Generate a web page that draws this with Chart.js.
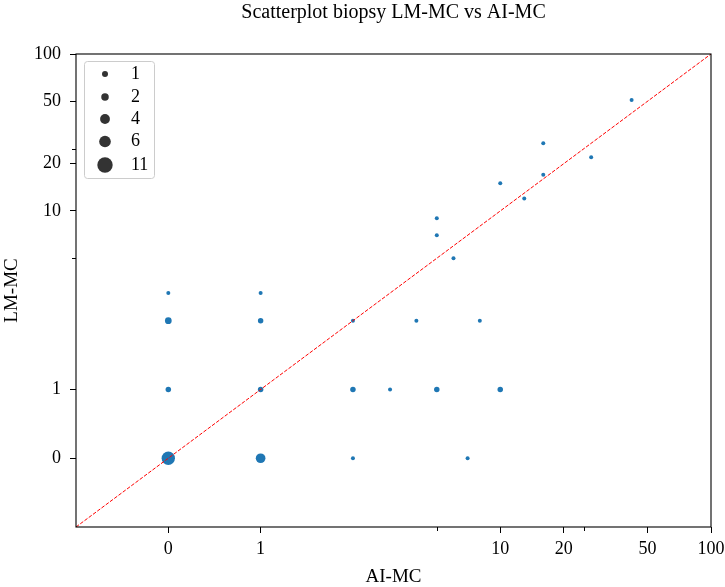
<!DOCTYPE html>
<html>
<head>
<meta charset="utf-8">
<title>Scatterplot biopsy LM-MC vs AI-MC</title>
<script src="https://cdn.jsdelivr.net/npm/chart.js@4"></script>
<style>
  html, body { margin: 0; padding: 0; background: #fff; }
  #wrap { width: 725px; height: 587px; }
</style>
</head>
<body>
<div id="wrap"><canvas id="scatterChart"></canvas></div>
<script>
// --- Data ---
const aiMC   = [0, 1, 2, 7, 0, 1, 2, 3, 5, 10, 0, 1, 2, 4, 8, 0, 1, 5, 5, 6, 10, 13, 16, 16, 27, 42];
const lmMC   = [0, 0, 0, 0, 1, 1, 1, 1, 1, 1, 2, 2, 2, 2, 2, 3, 3, 7, 9, 5, 15, 12, 27, 17, 22, 51];
const counts = [11, 6, 1, 1, 2, 2, 2, 1, 2, 2, 3, 2, 1, 1, 1, 1, 1, 1, 1, 1, 1, 1, 1, 1, 1, 1];
const legendCounts = [1, 2, 4, 6, 11];
const tickValues = [0, 1, 5, 10, 20, 25, 50, 100];
const tickLabels = ['0', '1', '', '10', '20', '', '50', '100'];
const axisMin = -1;
const axisMax = 100;

const SERIF = "'Liberation Serif', 'DejaVu Serif', serif";
const DOT_BLUE = '#1f77b4';

// symlog: linear up to 2, then log10 (linear part scaled to match the picture)
const LIN_THRESH = 2;
const LIN_SCALE = 0.438;
function symlog(v) {
    const a = Math.abs(v);
    if (a <= LIN_THRESH) return v * LIN_SCALE;
    return Math.sign(v) * (LIN_THRESH * LIN_SCALE + Math.log10(a / LIN_THRESH));
}
function symlogInv(t) {
    const a = Math.abs(t);
    if (a <= LIN_THRESH * LIN_SCALE) return t / LIN_SCALE;
    return Math.sign(t) * LIN_THRESH * Math.pow(10, a - LIN_THRESH * LIN_SCALE);
}

class SymlogScale extends Chart.Scale {
    determineDataLimits() {
        this.min = this.options.min;
        this.max = this.options.max;
    }
    buildTicks() {
        return tickValues.filter(v => v >= this.min && v <= this.max).map(v => ({ value: v }));
    }
    configure() {
        super.configure();
        this._startT = symlog(this.min);
        this._rangeT = symlog(this.max) - this._startT;
    }
    getLabelForValue(value) { return String(value); }
    getPixelForValue(value) {
        return this.getPixelForDecimal((symlog(value) - this._startT) / this._rangeT);
    }
    getValueForPixel(pixel) {
        return symlogInv(this.getDecimalForPixel(pixel) * this._rangeT + this._startT);
    }
}
SymlogScale.id = 'symlog';
SymlogScale.defaults = {};
Chart.register(SymlogScale);

// marker radius for a count (area grows linearly with count)
function markerRadius(n) { return Math.sqrt(4 + 5 * n); }
const isMinor = v => tickLabels[tickValues.indexOf(v)] === '';

const points = aiMC.map((x, i) => ({ x: x, y: lmMC[i] }));

// --- Frame, minor ticks, title and size legend ---
const decorPlugin = {
    id: 'decor',
    afterDraw(chart) {
        const { ctx, chartArea: a, scales } = chart;
        ctx.save();
        // minor ticks
        ctx.strokeStyle = '#000';
        ctx.lineWidth = 1;
        tickValues.filter(isMinor).forEach(v => {
            const px = Math.round(scales.x.getPixelForValue(v)) + 0.5;
            ctx.beginPath(); ctx.moveTo(px, a.bottom); ctx.lineTo(px, a.bottom + 4); ctx.stroke();
            const py = Math.round(scales.y.getPixelForValue(v)) + 0.5;
            ctx.beginPath(); ctx.moveTo(a.left, py); ctx.lineTo(a.left - 4, py); ctx.stroke();
        });
        // frame
        ctx.lineWidth = 1.1;
        ctx.strokeRect(a.left, a.top, a.right - a.left, a.bottom - a.top);

        // title
        ctx.fillStyle = '#000';
        ctx.font = '20px ' + SERIF;
        ctx.textAlign = 'center';
        ctx.textBaseline = 'middle';
        ctx.fillText('Scatterplot biopsy LM-MC vs AI-MC', (a.left + a.right) / 2, 13);

        // legend
        const lx = a.left + 8, ly = a.top + 7, lw = 70, lh = 117;
        ctx.beginPath();
        ctx.roundRect(lx + 0.5, ly + 0.5, lw, lh, 3);
        ctx.fillStyle = 'rgba(255,255,255,0.8)';
        ctx.fill();
        ctx.strokeStyle = '#cccccc';
        ctx.lineWidth = 1;
        ctx.stroke();
        const rowY = [74, 97, 119, 141.5, 165];
        ctx.font = '18px ' + SERIF;
        ctx.textAlign = 'left';
        legendCounts.forEach((n, i) => {
            ctx.beginPath();
            ctx.arc(lx + 21, rowY[i], markerRadius(n), 0, Math.PI * 2);
            ctx.fillStyle = '#333333';
            ctx.fill();
            ctx.fillStyle = '#000';
            ctx.fillText(String(n), lx + 47, rowY[i]);
        });
        ctx.restore();
    }
};

function axisOptions(titleText, isX) {
    return {
        type: 'symlog',
        min: axisMin,
        max: axisMax,
        border: { display: false },
        grid: {
            display: true,
            drawOnChartArea: false,
            drawTicks: true,
            tickLength: 6,
            tickWidth: 1,
            tickColor: ctx => (ctx.tick && isMinor(ctx.tick.value)) ? 'rgba(0,0,0,0)' : '#000'
        },
        ticks: {
            color: '#000',
            font: { family: SERIF, size: 18 },
            padding: isX ? 5 : 9,
            autoSkip: false,
            maxRotation: 0,
            callback: value => tickLabels[tickValues.indexOf(value)]
        },
        title: {
            display: true,
            text: titleText,
            color: '#000',
            font: { family: SERIF, size: 19, lineHeight: 1 },
            padding: isX ? { top: 0, bottom: 0 } : { top: 2.5, bottom: 0 }
        },
        afterFit: scale => {
            if (isX) scale.height = 60; else scale.width = 76;
            scale.paddingLeft = 0;
            scale.paddingRight = 0;
            scale.paddingTop = 0;
            scale.paddingBottom = 0;
        }
    };
}

const chart = new Chart(document.getElementById('scatterChart'), {
    type: 'scatter',
    data: {
        datasets: [
            {
                label: 'y = x',
                data: [{ x: axisMin, y: axisMin }, { x: axisMax, y: axisMax }],
                showLine: true,
                borderColor: '#ff0000',
                borderWidth: 1,
                borderDash: [3.7, 1.6],
                pointRadius: 0,
                order: 0
            },
            {
                label: 'biopsy',
                data: points,
                backgroundColor: DOT_BLUE,
                borderWidth: 0,
                pointRadius: ctx => markerRadius(counts[ctx.dataIndex]) - 1,
                pointHoverRadius: ctx => markerRadius(counts[ctx.dataIndex]) - 1,
                order: 1
            }
        ]
    },
    options: {
        responsive: true,
        maintainAspectRatio: false,
        animation: false,
        layout: { padding: { top: 54, right: 14, bottom: 0, left: 0 } },
        scales: {
            x: axisOptions('AI-MC', true),
            y: axisOptions('LM-MC', false)
        },
        plugins: {
            legend: { display: false },
            tooltip: { enabled: false }
        }
    },
    plugins: [decorPlugin]
});
</script>
</body>
</html>
